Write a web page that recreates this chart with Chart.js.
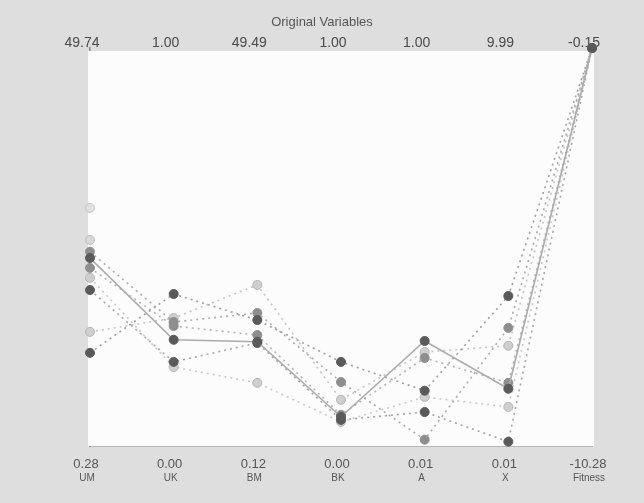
<!DOCTYPE html>
<html>
<head>
<meta charset="utf-8">
<script src="https://cdn.jsdelivr.net/npm/chart.js@4/dist/chart.umd.min.js"></script>
<style>
  html, body { margin: 0; padding: 0; background: #dedede; }
  #wrap { width: 644px; height: 503px; }
</style>
</head>
<body>
<div id="wrap"><canvas id="pc" width="644" height="503"></canvas></div>
<script>
// axis names and tick labels (bottom = scaled min, top = scaled max)
const axisNames = ['UM', 'UK', 'BM', 'BK', 'A', 'X', 'Fitness'];
const bottomTicks = ['0.28', '0.00', '0.12', '0.00', '0.01', '0.01', '-10.28'];
const topTicks = ['49.74', '1.00', '49.49', '1.00', '1.00', '9.99', '-0.15'];

// normalised positions (0 = bottom, 1 = top) of each run on each axis
const run1 = [0.468, 0.261, 0.256, 0.066, 0.258, 0.137, 1.0];
const run2 = [0.228, 0.377, 0.311, 0.205, 0.132, 0.372, 1.0];
const run3 = [0.484, 0.306, 0.329, 0.154, 0.008, 0.291, 1.0];
const run4 = [0.281, 0.316, 0.400, 0.109, 0.230, 0.246, 1.0];
const run5 = [0.418, 0.192, 0.152, 0.053, 0.116, 0.091, 1.0];
const run6 = [0.443, 0.296, 0.273, 0.071, 0.215, 0.152, 1.0];
const run7 = [0.387, 0.205, 0.253, 0.058, 0.078, 0.003, 1.0];
// stray points on the UM axis only
const extraUM1 = [0.595];
const extraUM2 = [0.514];

const DARK = '#5a5a5a', MID = '#8e8e8e', LIGHT = '#cfcfcf';

function run(data, point, line, dash) {
    return {
        data,
        clip: false,
        borderColor: line,
        borderWidth: 1.6,
        borderDash: dash,
        pointRadius: 4.5,
        pointBackgroundColor: point,
        pointBorderColor: point === LIGHT ? '#b4b4b4' : point,
        pointBorderWidth: 1,
        tension: 0
    };
}

// white plotting area behind the lines
const plotBg = {
    id: 'plotBg',
    beforeDatasetsDraw(chart) {
        const a = chart.chartArea;
        const ctx = chart.ctx;
        ctx.save();
        ctx.fillStyle = '#fcfcfc';
        ctx.fillRect(a.left - 2, a.top + 3, a.right - a.left + 4, a.bottom - a.top - 3);
        ctx.restore();
    }
};

const hidden = { display: false, drawTicks: false };

// Chart.js paints dataset 0 last, so the dark runs come first
new Chart(document.getElementById('pc'), {
    type: 'line',
    data: {
        labels: bottomTicks,
        datasets: [
            run(run1, DARK, '#ababab', []),
            run(run2, DARK, '#9e9e9e', [2, 4]),
            run(run7, DARK, '#a5a5a5', [2, 4]),
            run(run3, MID, '#aaaaaa', [2, 4]),
            run(run6, MID, '#b3b3b3', [2, 4]),
            run(run4, LIGHT, '#c4c4c4', [2, 4]),
            run(run5, LIGHT, '#c9c9c9', [2, 4]),
            { data: extraUM1, clip: false, showLine: false, pointRadius: 4.5, pointBackgroundColor: '#e2e2e2', pointBorderColor: '#c4c4c4' },
            { data: extraUM2, clip: false, showLine: false, pointRadius: 4.5, pointBackgroundColor: '#d8d8d8', pointBorderColor: '#bdbdbd' }
        ]
    },
    options: {
        responsive: false,
        animation: false,
        layout: { padding: 0 },
        plugins: {
            legend: { display: false },
            tooltip: { enabled: false },
            title: {
                display: true,
                text: 'Original Variables',
                color: '#555',
                font: { family: 'Liberation Sans, Arial', size: 13, weight: 'normal' },
                padding: { top: 15, bottom: 0 }
            }
        },
        scales: {
            x: {
                type: 'category',
                position: 'bottom',
                weight: 1,
                offset: false,
                grid: hidden,
                border: { display: true, color: '#8f8f8f', width: 1.5 },
                ticks: {
                    color: '#555',
                    font: { family: 'Liberation Sans, Arial', size: 13, lineHeight: 1 },
                    padding: 12,
                    labelOffset: -4,
                    maxRotation: 0,
                    autoSkip: false
                },
                afterFit(s) { s.height = 25; }
            },
            xn: {
                type: 'category',
                position: 'bottom',
                weight: 2,
                labels: axisNames,
                offset: false,
                grid: hidden,
                border: { display: false },
                ticks: {
                    color: '#555',
                    font: { family: 'Liberation Sans, Arial', size: 10, lineHeight: 1 },
                    padding: 2,
                    labelOffset: -3,
                    maxRotation: 0,
                    autoSkip: false
                },
                afterFit(s) { s.height = 32; }
            },
            xt: {
                type: 'category',
                position: 'top',
                labels: topTicks,
                offset: false,
                grid: hidden,
                border: { display: false },
                ticks: {
                    color: '#4a4a4a',
                    font: { family: 'Liberation Sans, Arial', size: 14, lineHeight: 1 },
                    padding: -2,
                    labelOffset: -8,
                    maxRotation: 0,
                    autoSkip: false
                },
                afterFit(s) { s.height = 17.4; }
            },
            y: {
                min: -0.008,
                max: 1,
                grid: hidden,
                border: { display: true, color: '#888', width: 1.5 },
                ticks: { display: false },
                afterFit(s) { s.width = 90; }
            },
            yr: {
                position: 'right',
                min: 0,
                max: 1,
                grid: hidden,
                border: { display: true, color: '#b5b5b5', width: 1 },
                ticks: { display: false },
                afterFit(s) { s.width = 52; }
            }
        }
    },
    plugins: [plotBg]
});
</script>
</body>
</html>
